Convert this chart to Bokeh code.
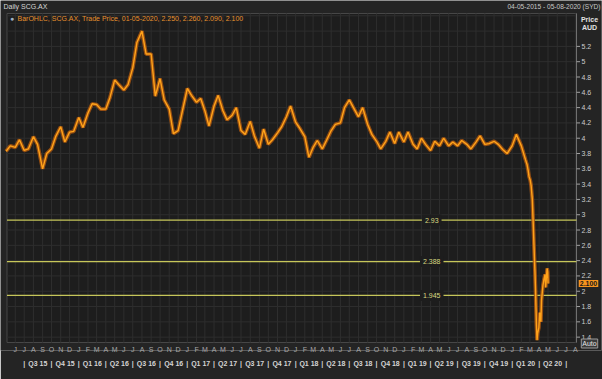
import pandas as pd
from bokeh.plotting import figure
from bokeh.models import ColumnDataSource, Range1d, LinearAxis, FixedTicker, Label
from bokeh.embed import file_html
from bokeh.resources import INLINE

# ---------------- data ----------------
semi_monthly_dates = pd.date_range("2015-05-01", "2020-02-15", freq="SMS")
semi_monthly_prices = [
    3.83, 3.90, 3.88, 3.98, 3.84, 3.86, 4.02, 3.92, 3.60, 3.80,
    3.86, 4.02, 4.15, 3.95, 4.08, 4.09, 4.27, 4.14, 4.33, 4.45,
    4.44, 4.38, 4.38, 4.53, 4.76, 4.70, 4.63, 4.70, 4.92, 5.25,
    5.40, 5.10, 5.10, 4.55, 4.78, 4.50, 4.38, 4.06, 4.10, 4.35,
    4.65, 4.56, 4.47, 4.52, 4.36, 4.16, 4.42, 4.56, 4.36, 4.24,
    4.30, 4.40, 4.10, 4.05, 4.22, 4.03, 3.87, 4.12, 3.92, 3.98,
    4.07, 4.15, 4.28, 4.42, 4.21, 4.13, 4.02, 3.75, 3.88, 3.97,
    3.86, 3.97, 4.10, 4.18, 4.20, 4.40, 4.50, 4.40, 4.28, 4.40,
    4.18, 4.05, 3.96, 3.86, 3.96, 4.08, 3.93, 4.08, 3.95, 4.08,
    3.92, 3.86, 4.00, 3.92, 3.84, 3.96, 3.90, 4.00, 3.90, 3.95,
    3.90, 3.97, 3.92, 3.86, 3.95, 4.03, 3.92, 3.93, 3.96, 3.92,
    3.85, 3.80, 3.90, 4.05, 3.90, 3.72,
]
crash_dates = [
    "2020-02-20", "2020-02-24", "2020-02-27", "2020-03-02", "2020-03-05",
    "2020-03-09", "2020-03-12", "2020-03-16", "2020-03-18", "2020-03-20",
    "2020-03-23", "2020-03-25", "2020-03-27", "2020-03-31", "2020-04-03",
    "2020-04-07", "2020-04-09", "2020-04-14", "2020-04-17", "2020-04-21",
    "2020-04-23", "2020-04-28", "2020-04-30", "2020-05-01",
]
crash_prices = [
    3.66, 3.58, 3.50, 3.45, 3.38, 3.20, 2.90, 2.45, 2.25, 2.00,
    1.55, 1.36, 1.45, 1.52, 1.72, 1.60, 1.88, 2.08, 2.15, 2.22,
    2.05, 2.30, 2.25, 2.10,
]
levels = [2.93, 2.388, 1.945]
level_labels = ["2.93", "2.388", "1.945"]
y_ticks = [1.4, 1.6, 1.8, 2.0, 2.2, 2.4, 2.6, 2.8, 3.0, 3.2,
           3.4, 3.6, 3.8, 4.0, 4.2, 4.4, 4.6, 4.8, 5.0, 5.2]
y_tick_labels = ["1.4", "1.6", "1.8", "2", "2.2", "2.4", "2.6", "2.8", "3", "3.2",
                 "3.4", "3.6", "3.8", "4", "4.2", "4.4", "4.6", "4.8", "5", "5.2"]
y_grid = y_ticks + [5.4, 5.6]
y_bottom, y_top = 1.33, 5.63
last_close = 2.100
last_close_label = "2.100"
title_text = "Daily SCG.AX"
period_text = "04-05-2015 - 05-08-2020 (SYD)"
legend_text = "BarOHLC, SCG.AX, Trade Price, 01-05-2020, 2.250, 2.260, 2.090, 2.100"
x_start, x_end = "2015-05-04", "2020-08-05"
level_label_date = "2019-04-05"
month_ticks = pd.date_range("2015-06-01", "2020-08-01", freq="MS")
month_letters = [d.strftime("%b")[0] for d in month_ticks]
quarter_starts = pd.date_range("2015-07-01", "2020-07-01", freq="QS")
quarter_names = [f"Q{d.quarter} {d.strftime('%y')}" for d in quarter_starts[:-1]]

# ---------------- layout & styling ----------------
FONT = "Liberation Sans"
PLOT_BG = "#1d1d1d"
BORDER_BG = "#242424"
GRID = "#2e2e2e"
LEVEL = "#c6c65a"
W, H = 602, 379
FRAME_W = W - 1        # frame spans the width; the price axis draws its labels inward
FRAME_H = 350          # frame reaches into the date-label strip
BOTTOM = H - FRAME_H
PL, PR, PT, PB = 6.5, 576.0, 13.0, 342.0   # price-area edges in canvas pixels


def ms(d):
    return float(pd.Timestamp(d).value // 10**6)


xs, xe = ms(x_start), ms(x_end)
mpp = (xe - xs) / (PR - PL)
ppu = (PB - PT) / (y_top - y_bottom)
xr0 = xs - PL * mpp
xr1 = xe + (FRAME_W - PR) * mpp
yr1 = y_top + PT / ppu
yr0 = yr1 - FRAME_H / ppu


def X(px):
    return xr0 + px * mpp


def Y(py):
    return yr1 - py / ppu


dates = list(semi_monthly_dates) + list(pd.to_datetime(crash_dates))
prices = semi_monthly_prices + crash_prices
src = ColumnDataSource(dict(date=dates, price=prices))

p = figure(width=W, height=H, output_backend="svg", toolbar_location=None,
           x_axis_type=None, y_axis_location="right",
           x_range=Range1d(xr0, xr1), y_range=Range1d(yr0, yr1),
           min_border_left=0, min_border_right=W - FRAME_W, min_border_top=0,
           min_border_bottom=BOTTOM,
           background_fill_color=BORDER_BG, border_fill_color=BORDER_BG,
           outline_line_color=None)
p.ygrid.visible = False

# price area with its grid
p.quad(left=[xs], right=[xe], bottom=[y_bottom], top=[y_top],
       fill_color=PLOT_BG, line_color="#474747", line_width=1)
month_ms = [ms(d) for d in month_ticks]
p.segment(x0=month_ms, x1=month_ms, y0=[y_bottom] * len(month_ms), y1=[y_top] * len(month_ms),
          line_color=GRID, line_width=1)
p.segment(x0=[xs] * len(y_grid), x1=[xe] * len(y_grid), y0=y_grid, y1=y_grid,
          line_color=GRID, line_width=1)
p.segment(x0=[xe], x1=[xe], y0=[y_bottom], y1=[y_top], line_color="#707070", line_width=1)

# price tick dashes + price axis (labels drawn inward)
p.segment(x0=[xe] * len(y_ticks), x1=[X(PR + 3.5)] * len(y_ticks), y0=y_ticks, y1=y_ticks,
          line_color="#a0a0a0", line_width=1)
ya = p.yaxis[0]
ya.ticker = FixedTicker(ticks=y_ticks)
ya.major_label_overrides = dict(zip(y_ticks, y_tick_labels))
ya.major_label_text_color = "#cccccc"
ya.major_label_text_font = FONT
ya.major_label_text_font_size = "7px"
ya.major_tick_out = 0
ya.major_tick_in = 0
ya.major_tick_line_color = None
ya.minor_tick_line_color = None
ya.axis_line_color = None
ya.major_label_standoff = -int(FRAME_W - (PR + 5))

# bottom month axis (labels drawn upward into the frame strip)
ax_m = LinearAxis(ticker=FixedTicker(ticks=month_ms),
                  major_label_overrides=dict(zip(month_ms, month_letters)),
                  axis_line_color=None, major_tick_line_color=None, minor_tick_line_color=None,
                  major_tick_out=0, major_tick_in=0,
                  major_label_text_color="#a8a8a8", major_label_text_font=FONT,
                  major_label_text_font_size="7px", major_label_standoff=-5)
p.add_layout(ax_m, "below")

# bottom quarter axis
sep_ms = [ms(d) for d in quarter_starts]
mid_ms = [ms(quarter_starts[i] + (quarter_starts[i + 1] - quarter_starts[i]) / 2)
          for i in range(len(quarter_names))]
q_over = dict(zip(sep_ms, ["|"] * len(sep_ms)))
q_over.update(dict(zip(mid_ms, quarter_names)))
ax_q = LinearAxis(ticker=FixedTicker(ticks=sep_ms + mid_ms),
                  major_label_overrides=q_over,
                  axis_line_color=None, major_tick_line_color=None, minor_tick_line_color=None,
                  major_tick_out=0, major_tick_in=0,
                  major_label_text_color="#d4d4d4", major_label_text_font=FONT,
                  major_label_text_font_style="bold",
                  major_label_text_font_size="7px", major_label_standoff=4)
p.add_layout(ax_q, "below")

# reference levels
for lvl, lab in zip(levels, level_labels):
    p.segment(x0=[xs], x1=[xe], y0=[lvl], y1=[lvl], line_color=LEVEL, line_width=1.2)
    p.add_layout(Label(x=ms(level_label_date), y=lvl, text=lab, text_align="center",
                       text_baseline="middle", text_color="#d8d882", text_font=FONT,
                       text_font_size="7px", background_fill_color=PLOT_BG, padding=3))

# price series (bar band + bright core)
p.line("date", "price", source=src, line_color="#a9560f", line_width=3.8, line_alpha=0.85)
p.line("date", "price", source=src, line_color="#ffa31a", line_width=1.4)

# legend line inside the price area
p.add_layout(Label(x=X(9.5), y=Y(18), text="●", text_baseline="middle",
                   text_color="#9fb0c4", text_font_size="7px"))
p.add_layout(Label(x=X(17), y=Y(18), text=legend_text, text_baseline="middle",
                   text_color="#e8912d", text_font=FONT, text_font_size="7px"))

# header texts
p.add_layout(Label(x=X(3), y=Y(6), text=title_text, text_baseline="middle",
                   text_color="#d6d6d6", text_font=FONT, text_font_size="7px"))
p.add_layout(Label(x=X(600), y=Y(6), text=period_text, text_align="right",
                   text_baseline="middle", text_color="#c8c8c8", text_font=FONT,
                   text_font_size="6.6px"))
p.add_layout(Label(x=X(589), y=Y(19), text="Price", text_align="center",
                   text_baseline="middle", text_color="#e2e2e2", text_font=FONT,
                   text_font_style="bold", text_font_size="7px"))
p.add_layout(Label(x=X(589), y=Y(27), text="AUD", text_align="center",
                   text_baseline="middle", text_color="#e2e2e2", text_font=FONT,
                   text_font_style="bold", text_font_size="7px"))

# last price tag and Auto button
p.add_layout(Label(x=X(588), y=last_close, text=last_close_label, text_align="center",
                   text_baseline="middle", text_color="#1a1a1a", text_font=FONT,
                   text_font_style="bold", text_font_size="7px",
                   background_fill_color="#f7931e", padding=1))
p.add_layout(Label(x=X(589), y=Y(343), text="Auto", text_align="center",
                   text_baseline="middle", text_color="#e6e6e6", text_font=FONT,
                   text_font_size="7px", background_fill_color="#3a3a3a",
                   border_line_color="#9a9a9a", padding=1))

open("out.html", "w").write(file_html(p, INLINE))
